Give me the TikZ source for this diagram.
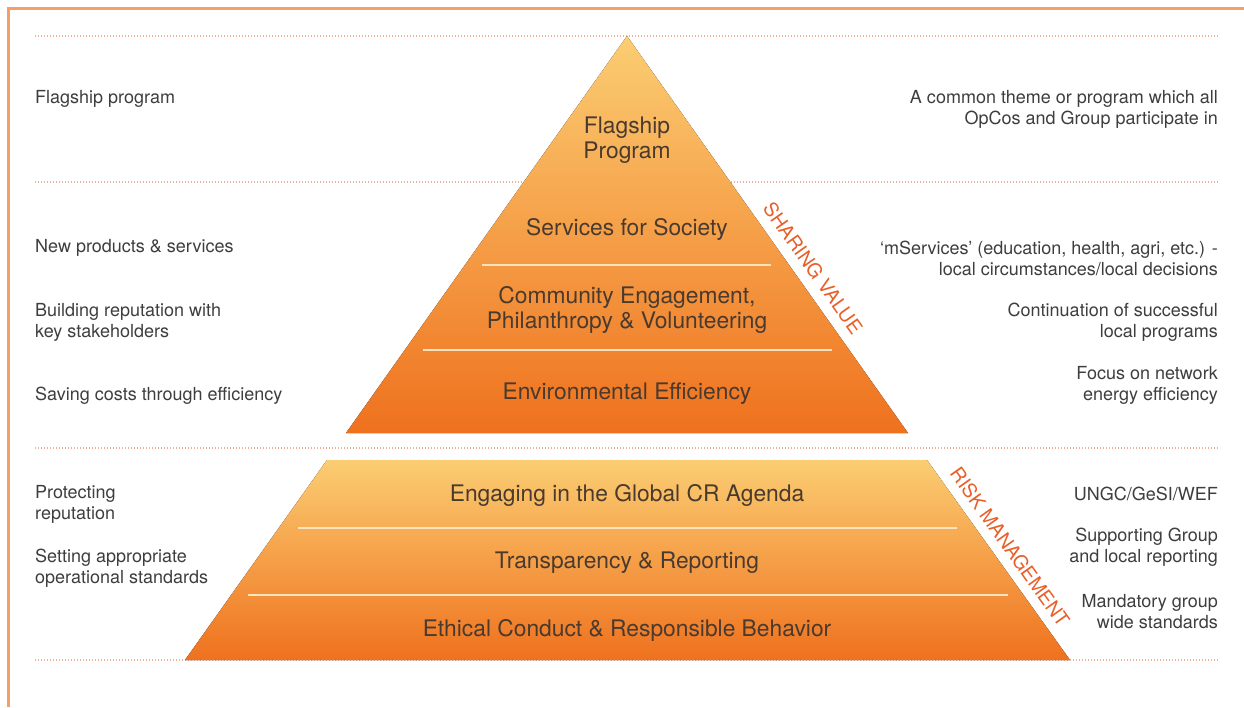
\documentclass[tikz,border=0pt]{standalone}
\usepackage{fontspec}
\setmainfont{TeX Gyre Heros}
\definecolor{framecol}{HTML}{F2A065}
\definecolor{dotcol}{HTML}{EFB09A}
\definecolor{sidegray}{HTML}{3E3E3E}
\definecolor{tiertextcol}{HTML}{4A3A2E}
\definecolor{toplight}{HTML}{FBCD72}
\definecolor{bottomdeep}{HTML}{EF711E}
\definecolor{sepcol}{HTML}{FCE3C0}
\definecolor{labelcol}{HTML}{E95F2A}
\begin{document}
\begin{tikzpicture}[x=1pt,y=-1pt,
  dotline/.style={dotcol, line width=1.3pt, dash pattern=on 1.2pt off 1.8pt},
  tierfill/.style={top color=toplight, bottom color=bottomdeep, draw=none},
  sepline/.style={sepcol, line width=1.4pt},
  lefttext/.style={anchor=west, align=left, text=sidegray, inner sep=0pt,
    font=\fontsize{18}{21}\selectfont},
  righttext/.style={anchor=east, align=right, text=sidegray, inner sep=0pt,
    font=\fontsize{18}{21}\selectfont},
  tiertext/.style={align=center, text=tiertextcol, inner sep=0pt,
    font=\fontsize{22.8}{25}\selectfont},
  sidelabel/.style={text=labelcol, inner sep=0pt,
    font=\fontsize{19.5}{22}\selectfont}]
\useasboundingbox (0,0) rectangle (1244,707);
\fill[white] (0,0) rectangle (1244,707);

% outer frame, open to the right and bottom
\draw[framecol, line width=3pt] (8,707) -- (8,8) -- (1244,8);

% dotted band separators
\draw[dotline] (35,36) -- (1218,36);
\draw[dotline] (35,182) -- (1218,182);
\draw[dotline] (35,448) -- (1218,448);
\draw[dotline] (35,660) -- (1218,660);

% upper pyramid: sharing value
\fill[tierfill] (627,36) -- (908,433) -- (346,433) -- cycle;
\draw[sepline] (482,265) -- (771,265);
\draw[sepline] (423,350) -- (832,350);

% lower trapezoid: risk management
\fill[tierfill] (327,460) -- (927,460) -- (1070,660) -- (185,660) -- cycle;
\draw[sepline] (298,528) -- (957,528);
\draw[sepline] (248,595) -- (1008,595);

% tier captions
\node[tiertext] (flagship) at (627,140) {Flagship\\Program};
\node[tiertext] (services) at (627,229) {Services for Society};
\node[tiertext] (community) at (627,310) {Community Engagement,\\Philanthropy \& Volunteering};
\node[tiertext] (environment) at (627,394) {Environmental Efficiency};
\node[tiertext] (global) at (627,495) {Engaging in the Global CR Agenda};
\node[tiertext] (transparency) at (627,563) {Transparency \& Reporting};
\node[tiertext] (ethical) at (627,630) {Ethical Conduct \& Responsible Behavior};

% slanted section labels
\node[sidelabel, rotate=-54.7] (sharing) at (813,268) {SHARING VALUE};
\node[sidelabel, rotate=-54.5] (risk) at (1010,547) {RISK MANAGEMENT};

% left column
\node[lefttext] (l1) at (35,99) {Flagship program};
\node[lefttext] (l2) at (35,248) {New products \& services};
\node[lefttext] (l3) at (35,322.5) {Building reputation with\\key stakeholders};
\node[lefttext] (l4) at (35,396) {Saving costs through efficiency};
\node[lefttext] (l5) at (35,504.5) {Protecting\\reputation};
\node[lefttext] (l6) at (35,568.5) {Setting appropriate\\operational standards};

% right column
\node[righttext] (r1) at (1218,109.5) {A common theme or program which all\\OpCos and Group participate in};
\node[righttext] (r2) at (1218,258.5) {‘mServices’ (education, health, agri, etc.) -\\local circumstances/local decisions};
\node[righttext] (r3) at (1218,322.5) {Continuation of successful\\local programs};
\node[righttext] (r4) at (1218,385.5) {Focus on network\\energy efficiency};
\node[righttext] (r5) at (1218,494) {UNGC/GeSI/WEF};
\node[righttext] (r6) at (1218,547.5) {Supporting Group\\and local reporting};
\node[righttext] (r7) at (1218,611.5) {Mandatory group\\wide standards};
\end{tikzpicture}
\end{document}
